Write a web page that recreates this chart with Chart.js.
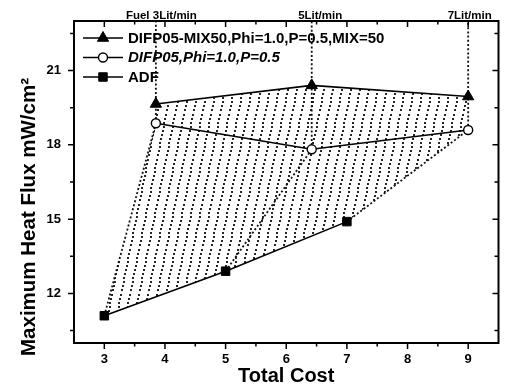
<!DOCTYPE html>
<html>
<head>
<meta charset="utf-8">
<script src="https://cdn.jsdelivr.net/npm/chart.js@4/dist/chart.umd.min.js"></script>
<style>
  html, body { margin: 0; padding: 0; background: #fff; }
  #wrap { width: 506px; height: 386px; }
</style>
</head>
<body>
<div id="wrap"><canvas id="c" width="506" height="386"></canvas></div>
<script>
// ---- data ----
const costAdf = [3, 5, 7];
const fluxAdf = [11.1, 12.9, 14.9];
const costDifp = [3.85, 6.42, 9.0];
const fluxMix50 = [19.65, 20.4, 19.95];
const fluxDifp05 = [18.87, 17.82, 18.6];
const fuelRates = ['Fuel 3Lit/min', '5Lit/min', '7Lit/min'];
const xTickValues = [3, 4, 5, 6, 7, 8, 9];
const yTickValues = [12, 15, 18, 21];
const seriesNames = ['DIFP05-MIX50,Phi=1.0,P=0.5,MIX=50', 'DIFP05,Phi=1.0,P=0.5', 'ADF'];
const yAxisTitle = 'Maximum Heat Flux mW/cm²';

const X_MIN = 2.5, X_MAX = 9.5, Y_MIN = 10, Y_MAX = 23;
const FONT = "'Liberation Sans', Arial, sans-serif";

const pts = (xs, ys) => xs.map((x, i) => ({ x, y: ys[i] }));

// outline of the operating region between the ADF curve and the mixed-fuel curve
const regionOutline = [
  { x: costAdf[0], y: fluxAdf[0] },
  { x: costDifp[0], y: fluxDifp05[0] },
  ...pts(costDifp, fluxMix50),
  { x: costDifp[2], y: fluxDifp05[2] },
  { x: costAdf[2], y: fluxAdf[2] },
  { x: costAdf[1], y: fluxAdf[1] },
  { x: costAdf[0], y: fluxAdf[0] }
];

const canvas = document.getElementById('c');
const ctx0 = canvas.getContext('2d');

// dotted diagonal hatching
function makeHatch() {
  const W = 9, H = 45, n = 11;
  const c = document.createElement('canvas');
  c.width = W; c.height = H;
  const g = c.getContext('2d');
  g.fillStyle = 'rgba(0,0,0,0.85)';
  for (let i = 0; i < n; i++) {
    const t = i / n;
    const px = Math.round(t * W), py = Math.round(H - t * H);
    for (const dx of [-W, 0, W]) {
      for (const dy of [-H, 0, H]) {
        g.fillRect(px + dx - 1, py + dy - 1, 2, 2);
      }
    }
  }
  return ctx0.createPattern(c, 'repeat');
}

const dotted = {
  borderColor: '#111',
  borderWidth: 1.8,
  borderDash: [2, 2.2],
  pointRadius: 0,
  fill: false,
  tension: 0,
  order: 3
};

const datasets = [
  {
    label: seriesNames[0],
    data: pts(costDifp, fluxMix50),
    borderColor: '#000', borderWidth: 1.6,
    pointStyle: 'triangle', pointRadius: 6.5,
    pointBackgroundColor: '#000', pointBorderColor: '#000', pointBorderWidth: 1,
    fill: false, order: 0, inKey: true, italic: false
  },
  {
    label: seriesNames[1],
    data: pts(costDifp, fluxDifp05),
    borderColor: '#000', borderWidth: 1.6,
    pointStyle: 'circle', pointRadius: 4.5,
    pointBackgroundColor: '#fff', pointBorderColor: '#000', pointBorderWidth: 1.4,
    fill: false, order: 1, inKey: true, italic: true
  },
  {
    label: seriesNames[2],
    data: pts(costAdf, fluxAdf),
    borderColor: '#000', borderWidth: 1.6,
    pointStyle: 'rect', pointRadius: 6,
    pointBackgroundColor: '#000', pointBorderColor: '#000', pointBorderWidth: 1,
    fill: false, order: 2, inKey: true, italic: false
  },
  {
    label: 'region',
    data: regionOutline,
    borderWidth: 0, borderColor: 'rgba(0,0,0,0)',
    backgroundColor: makeHatch(),
    pointRadius: 0, fill: 'shape', order: 10
  },
  // dotted links from each ADF point to its DIFP05 point
  ...costAdf.map((x, i) => Object.assign({
    label: 'link' + i,
    data: [{ x, y: fluxAdf[i] }, { x: costDifp[i], y: fluxDifp05[i] }]
  }, dotted)),
  // vertical fuel-rate guides
  ...costDifp.map((x, i) => Object.assign({
    label: 'guide' + i,
    data: [{ x, y: fluxDifp05[i] }, { x, y: Y_MAX }]
  }, dotted))
];

// frame and tick marks on all four sides
const axisFrame = {
  id: 'axisFrame',
  afterDraw(chart) {
    const { ctx, chartArea: a, scales: { x, y } } = chart;
    ctx.save();
    ctx.strokeStyle = '#000';
    ctx.lineWidth = 1.5;
    ctx.beginPath();
    for (let v = X_MIN + 0.5; v < X_MAX - 0.01; v += 0.5) {
      const major = xTickValues.includes(v);
      const len = major ? 6 : 3.5;
      const px = x.getPixelForValue(v);
      ctx.moveTo(px, a.bottom); ctx.lineTo(px, a.bottom + len);
      ctx.moveTo(px, a.top); ctx.lineTo(px, a.top + len);
    }
    for (let v = Y_MIN + 0.5; v < Y_MAX - 0.01; v += 1.5) {
      const major = yTickValues.includes(v);
      const len = major ? 6 : 4;
      const py = y.getPixelForValue(v);
      ctx.moveTo(a.left, py); ctx.lineTo(a.left - len, py);
      ctx.moveTo(a.right, py); ctx.lineTo(a.right - len, py);
    }
    ctx.stroke();
    ctx.lineWidth = 2;
    ctx.strokeRect(a.left, a.top, a.right - a.left, a.bottom - a.top);
    ctx.restore();
  }
};

// fuel-rate captions above the guides, and the vertical axis title
const captions = {
  id: 'captions',
  afterDraw(chart) {
    const { ctx, chartArea: a, scales: { x } } = chart;
    const shift = [5.5, 8.5, 1.5];
    ctx.save();
    ctx.fillStyle = '#000';
    ctx.font = 'bold 11.5px ' + FONT;
    ctx.textAlign = 'center';
    ctx.textBaseline = 'alphabetic';
    fuelRates.forEach((t, i) => {
      ctx.fillText(t, x.getPixelForValue(costDifp[i]) + shift[i], a.top - 2);
    });
    // vertical title, sitting a little below the middle of the axis
    ctx.translate(29, a.bottom - 126);
    ctx.rotate(-Math.PI / 2);
    ctx.font = 'bold 20.5px ' + FONT;
    ctx.textBaseline = 'middle';
    ctx.fillText(yAxisTitle, 0, 0);
    ctx.restore();
  }
};

// series key in the upper-left corner of the plot
const seriesKey = {
  id: 'seriesKey',
  afterDatasetsDraw(chart) {
    const { ctx, chartArea: a } = chart;
    const x0 = a.left + 9, w = 40;
    ctx.save();
    let row = 0;
    chart.data.datasets.forEach(ds => {
      if (!ds.inKey) return;
      const cy = a.top + 17 + row * 19.5;
      ctx.strokeStyle = ds.borderColor;
      ctx.lineWidth = ds.borderWidth;
      ctx.setLineDash([]);
      ctx.beginPath();
      ctx.moveTo(x0, cy); ctx.lineTo(x0 + w, cy);
      ctx.stroke();
      ctx.fillStyle = ds.pointBackgroundColor;
      ctx.strokeStyle = ds.pointBorderColor;
      ctx.lineWidth = ds.pointBorderWidth;
      Chart.helpers.drawPoint(ctx, {
        pointStyle: ds.pointStyle, radius: ds.pointRadius, rotation: 0,
        borderWidth: ds.pointBorderWidth
      }, x0 + w / 2, cy);
      ctx.fillStyle = '#000';
      ctx.font = (ds.italic ? 'italic ' : '') + 'bold 15px ' + FONT;
      ctx.textAlign = 'left';
      ctx.textBaseline = 'middle';
      ctx.fillText(ds.label, x0 + w + 5, cy + 0.5);
      row++;
    });
    ctx.restore();
  }
};

Chart.defaults.font.family = FONT;
Chart.defaults.font.weight = 'bold';
Chart.defaults.color = '#000';

new Chart(canvas, {
  type: 'line',
  data: { datasets },
  options: {
    responsive: false,
    animation: false,
    layout: { padding: { top: 21, right: 4, left: 0, bottom: 0 } },
    plugins: {
      legend: { display: false },
      tooltip: { enabled: false }
    },
    scales: {
      x: {
        type: 'linear',
        min: X_MIN, max: X_MAX,
        afterBuildTicks: s => { s.ticks = xTickValues.map(v => ({ value: v })); },
        afterFit: s => { s.height = 43; },
        grid: { display: false, drawTicks: false },
        border: { display: false },
        ticks: { font: { size: 13, weight: 'bold' }, padding: 9, maxRotation: 0 },
        title: {
          display: true, text: 'Total Cost',
          font: { size: 20, weight: 'bold', lineHeight: 1 },
          padding: { top: 0, bottom: 0 }
        }
      },
      y: {
        type: 'linear',
        min: Y_MIN, max: Y_MAX,
        afterBuildTicks: s => { s.ticks = yTickValues.map(v => ({ value: v })); },
        afterFit: s => { s.width = 74; },
        grid: { display: false, drawTicks: false },
        border: { display: false },
        ticks: { font: { size: 13, weight: 'bold' }, padding: 13 },
        title: { display: false }
      }
    }
  },
  plugins: [axisFrame, captions, seriesKey]
});
</script>
</body>
</html>
